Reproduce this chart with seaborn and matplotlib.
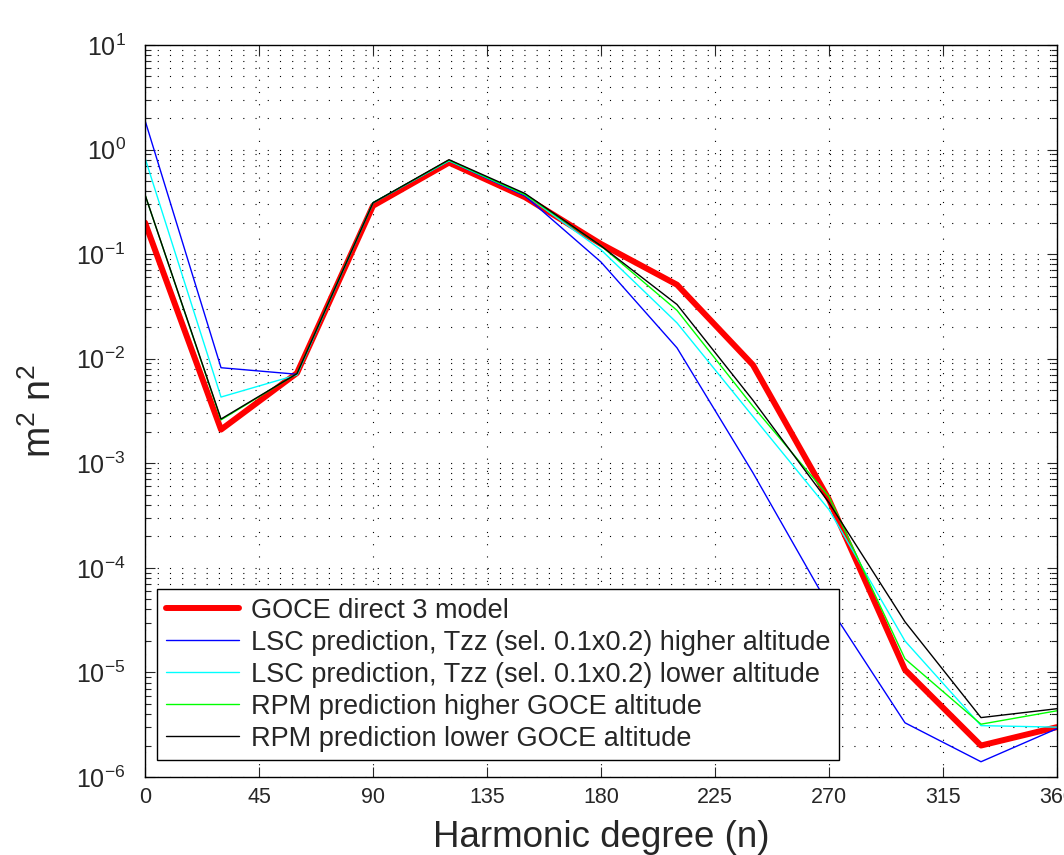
import numpy as np
import pandas as pd
import seaborn as sns
import matplotlib
matplotlib.use("Agg")
import matplotlib.pyplot as plt
from matplotlib.ticker import LogLocator, FixedLocator, NullFormatter

# degree variances
degree = [0, 30, 60, 90, 120, 150, 180, 210, 240, 270, 300, 330, 360]
goce_direct3 = [0.20, 0.0021, 0.0073, 0.29, 0.75, 0.35, 0.125, 0.051, 0.0087, 4.5e-4, 1.06e-5, 2.0e-6, 3.0e-6]
lsc_higher = [1.9, 0.0082, 0.0071, 0.31, 0.78, 0.36, 0.084, 0.0127, 8.1e-4, 4.3e-5, 3.3e-6, 1.4e-6, 2.9e-6]
lsc_lower = [0.83, 0.0043, 0.0070, 0.31, 0.78, 0.37, 0.11, 0.022, 0.0028, 3.6e-4, 2.0e-5, 3.1e-6, 3.0e-6]
rpm_higher = [0.37, 0.0026, 0.0072, 0.31, 0.79, 0.37, 0.12, 0.029, 0.0035, 4.8e-4, 1.35e-5, 3.2e-6, 4.3e-6]
rpm_lower = [0.37, 0.00265, 0.0072, 0.31, 0.80, 0.38, 0.12, 0.033, 0.0040, 4.2e-4, 3.05e-5, 3.7e-6, 4.5e-6]

labels = ["GOCE direct 3 model",
          "LSC prediction, Tzz (sel. 0.1x0.2) higher altitude",
          "LSC prediction, Tzz (sel. 0.1x0.2) lower altitude",
          "RPM prediction higher GOCE altitude",
          "RPM prediction lower GOCE altitude"]
series = [goce_direct3, lsc_higher, lsc_lower, rpm_higher, rpm_lower]
colors = ["#ff0000", "#0000ff", "#00ffff", "#00ff00", "#000000"]
widths = [4.3, 1.0, 1.0, 1.0, 1.0]

sns.set_style("white")
plt.rcParams['font.family'] = ['Liberation Sans', 'DejaVu Sans']
plt.rcParams['mathtext.fontset'] = 'custom'
plt.rcParams['mathtext.rm'] = 'Liberation Sans'
plt.rcParams['mathtext.it'] = 'Liberation Sans'

fig = plt.figure(figsize=(10.64, 8.55), dpi=100)
ax = fig.add_axes([0.1363, 0.0912, 0.8571, 0.8562])

for vals, lab, c, lw in zip(series, labels, colors, widths):
    df = pd.DataFrame({"n": degree, "v": vals})
    sns.lineplot(data=df, x="n", y="v", color=c, linewidth=lw, label=lab, ax=ax)

ax.set_yscale("log")
ax.set_xlim(0, 360)
ax.set_ylim(1e-6, 1e1)
ax.set_xticks(np.arange(0, 361, 45))
ax.yaxis.set_major_locator(FixedLocator([10.0 ** k for k in range(-6, 2)]))
ax.yaxis.set_minor_locator(LogLocator(base=10, subs=np.arange(2, 10), numticks=20))
ax.yaxis.set_minor_formatter(NullFormatter())
ax.set_yticklabels([r"$10^{%d}$" % k for k in range(-6, 2)])

ax.tick_params(axis="x", which="major", direction="in", length=7, width=0.8,
               top=True, bottom=True, labelsize=15.5, pad=7)
ax.tick_params(axis="y", which="major", direction="in", length=7, width=0.8,
               left=True, right=True, labelsize=18, pad=14)
ax.tick_params(axis="y", which="minor", direction="in", length=4, width=0.8,
               left=True, right=True)

dots = (0, (1, 10))
ax.grid(True, which="major", axis="both", color="black", linestyle=dots, linewidth=0.8)
ax.grid(True, which="minor", axis="y", color="black", linestyle=dots, linewidth=0.8)

for s in ax.spines.values():
    s.set_linewidth(1.0)
    s.set_color("black")

ax.set_xlabel("Harmonic degree (n)", fontsize=26.5, labelpad=9)
ax.set_ylabel(r"m$^2$ n$^2$", fontsize=27, labelpad=12)

leg = ax.legend(loc="lower left", bbox_to_anchor=(0.013, 0.023), borderaxespad=0,
                fontsize=19.5, frameon=True, fancybox=False,
                edgecolor="black", framealpha=1, handlelength=2.7,
                labelspacing=0.22, borderpad=0.32, handletextpad=0.45)
leg.get_frame().set_linewidth(1.0)

fig.savefig("out.png", dpi=100)
